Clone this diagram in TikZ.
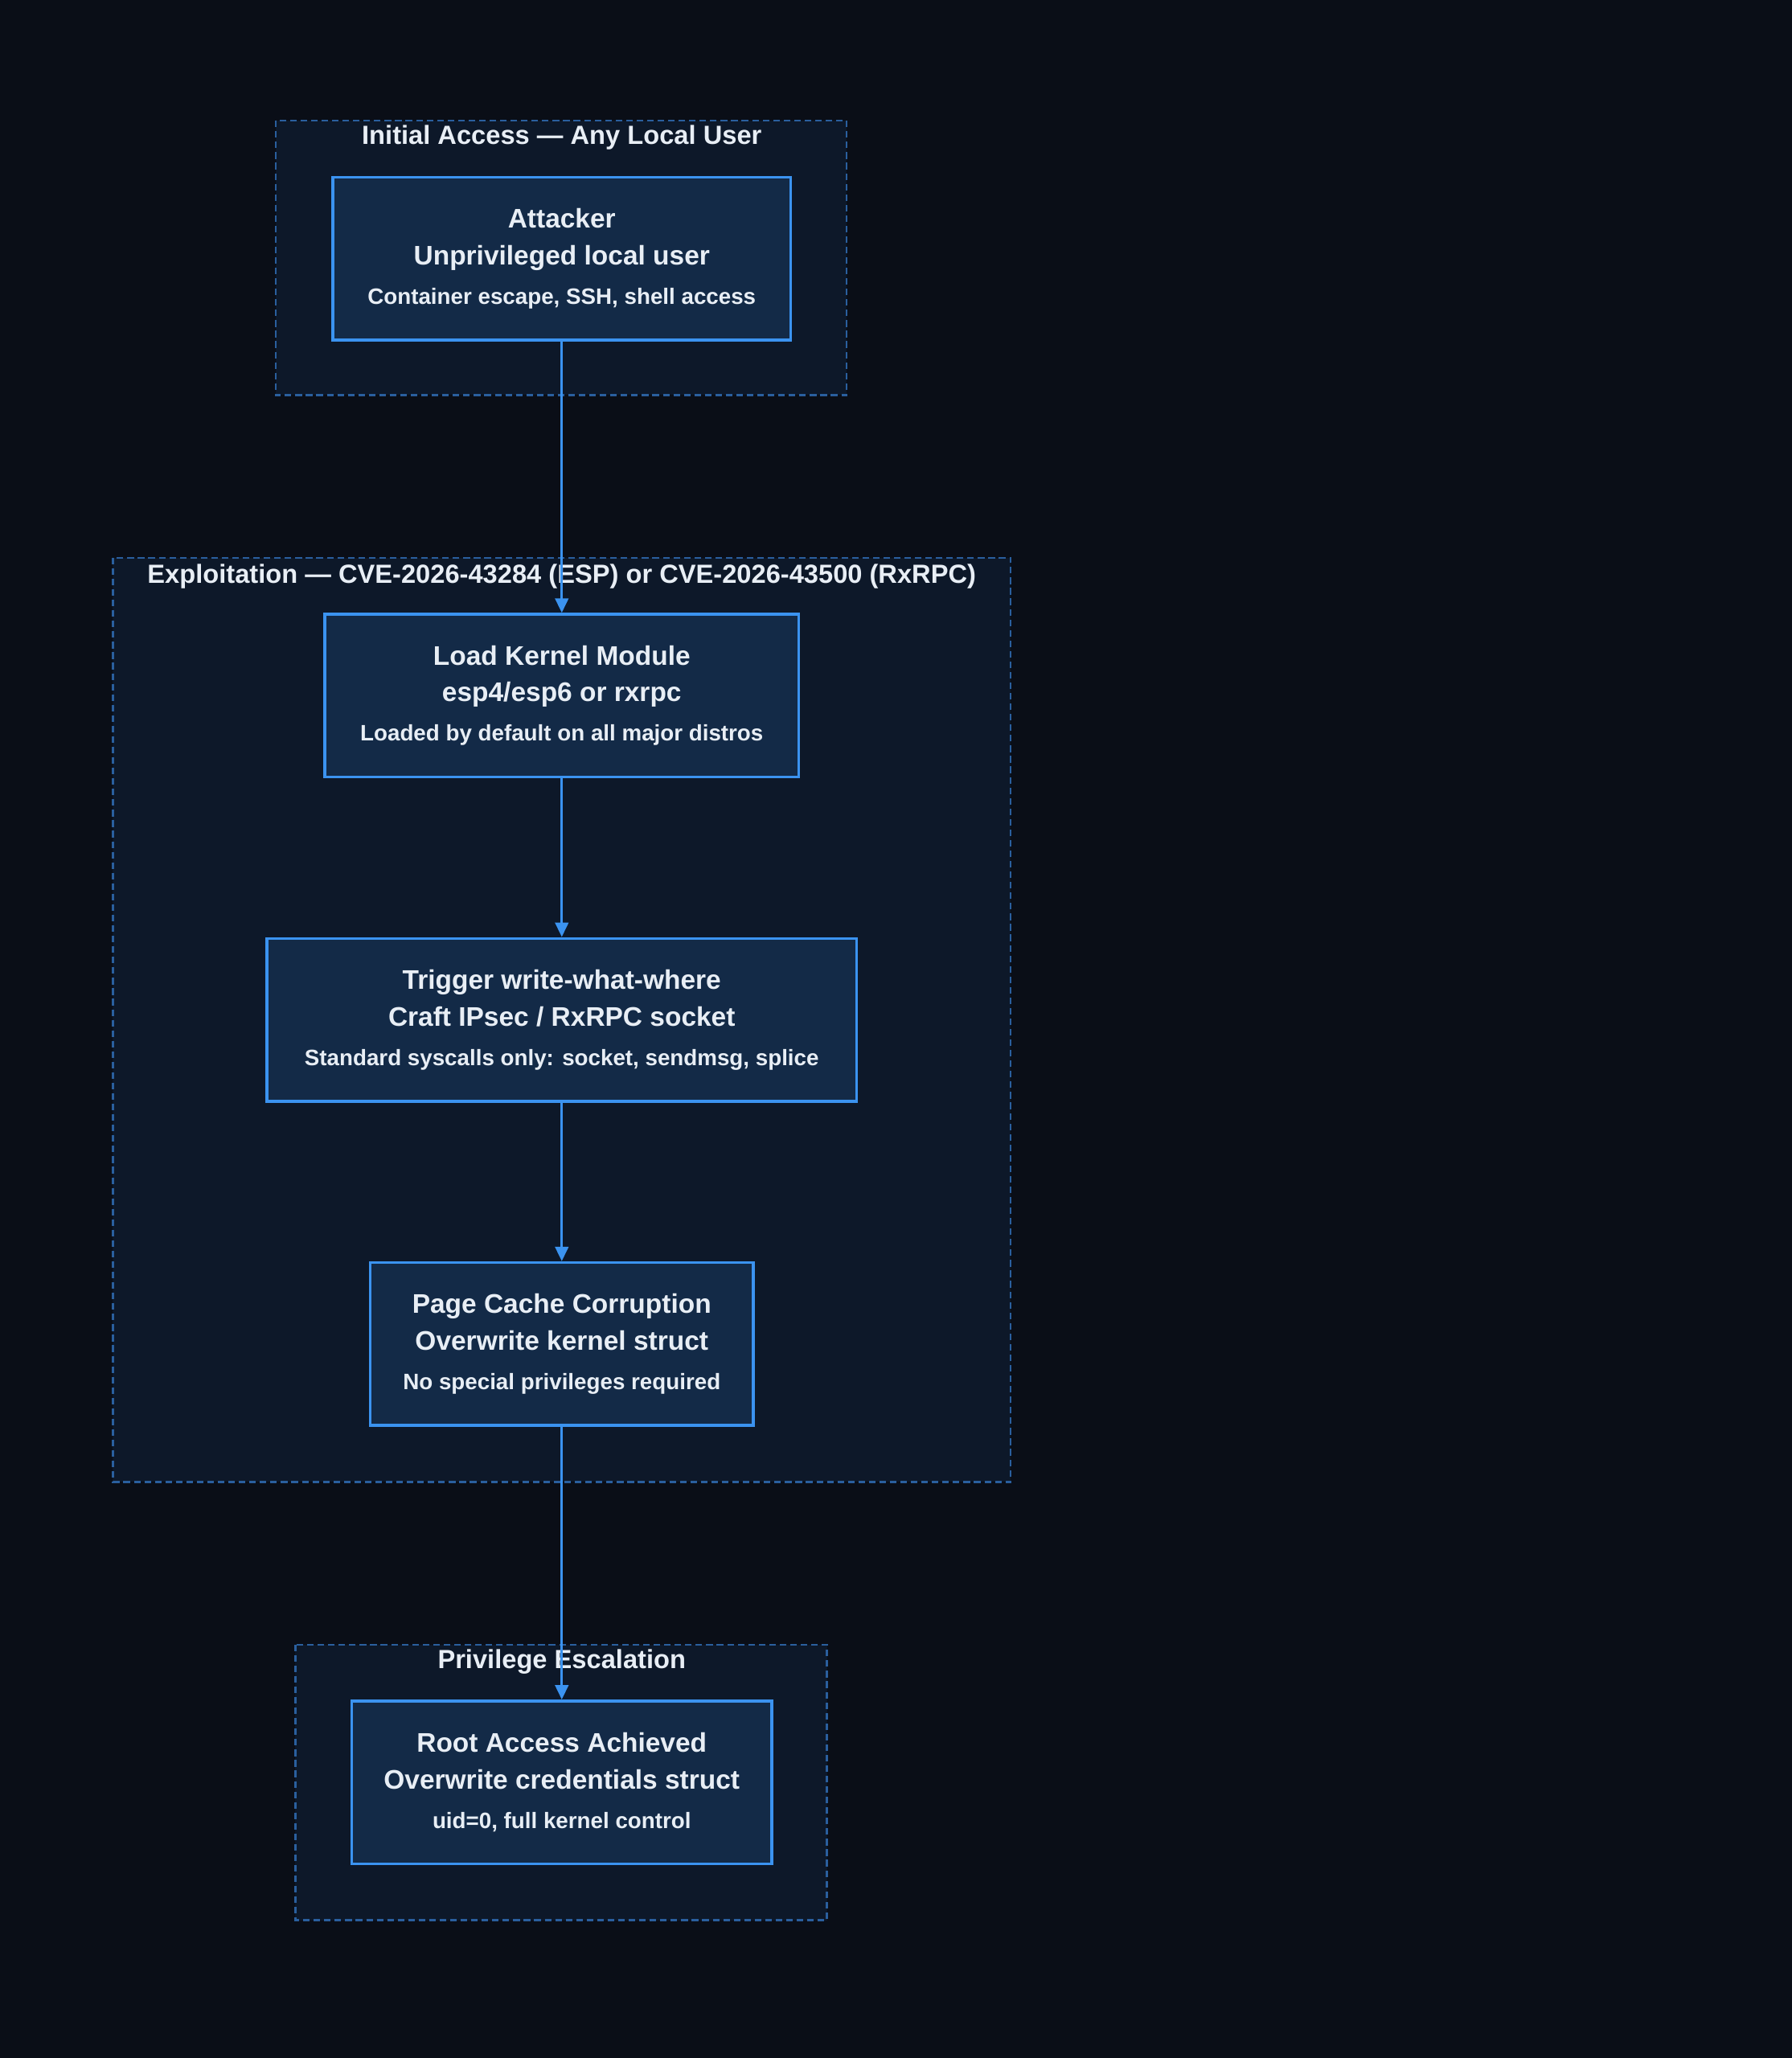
\documentclass[tikz,border=0pt]{standalone}
\usepackage{fontspec}
\setmainfont{Liberation Sans}
\usetikzlibrary{arrows.meta}
\definecolor{bg}{HTML}{0A0E17}
\definecolor{clfill}{HTML}{0D1829}
\definecolor{clline}{HTML}{2A5F9E}
\definecolor{bxfill}{HTML}{132A47}
\definecolor{bxline}{HTML}{3B93F0}
\definecolor{txt}{HTML}{E8EEF5}
\begin{document}
\begin{tikzpicture}[x=1pt,y=-1pt,
  cluster/.style={draw=clline,fill=clfill,dashed,dash pattern=on 5pt off 3pt,line width=1.5pt},
  ctitle/.style={text=txt,font=\bfseries\fontsize{20}{24}\selectfont,anchor=center,inner sep=0},
  box/.style={draw=bxline,fill=bxfill,line width=2.2pt,text=txt,align=center,inner sep=0,
    font=\bfseries\fontsize{20.5}{28}\selectfont},
  sm/.style={},
  arr/.style={draw=bxline,line width=2pt,-{Triangle[length=11pt,width=10pt]}}]
\fill[bg] (0,0) rectangle (1365,1568);
\useasboundingbox (0,0) rectangle (1365,1568);
\newcommand\smline[1]{{\fontsize{17}{24}\selectfont #1}}
% clusters
\draw[cluster] (210,92) rectangle (645,301);
\node[ctitle] (t1) at (428,105) {Initial Access — Any Local User};
\draw[cluster] (86,425) rectangle (770,1129);
\node[ctitle] (t2) at (428,439) {Exploitation — CVE-2026-43284 (ESP) or CVE-2026-43500 (RxRPC)};
\draw[cluster] (225,1253) rectangle (630,1463);
\node[ctitle] (t3) at (428,1266) {Privilege Escalation};
% boxes
\node[box,minimum width=349pt,minimum height=124pt] (b1) at (428,197) {Attacker\\Unprivileged local user\\[2pt]\smline{Container escape, SSH, shell access}};
\node[box,minimum width=361pt,minimum height=124pt] (b2) at (428,530) {Load Kernel Module\\esp4/esp6 or rxrpc\\[2pt]\smline{Loaded by default on all major distros}};
\node[box,minimum width=449pt,minimum height=124pt] (b3) at (428,777) {Trigger write-what-where\\Craft IPsec / RxRPC socket\\[2pt]\smline{Standard syscalls only: socket, sendmsg, splice}};
\node[box,minimum width=292pt,minimum height=124pt] (b4) at (428,1024) {Page Cache Corruption\\Overwrite kernel struct\\[2pt]\smline{No special privileges required}};
\node[box,minimum width=320pt,minimum height=124pt] (b5) at (428,1358) {Root Access Achieved\\Overwrite credentials struct\\[2pt]\smline{uid=0, full kernel control}};
% arrows
\draw[arr] (b1.south) -- (b2.north);
\draw[arr] (b2.south) -- (b3.north);
\draw[arr] (b3.south) -- (b4.north);
\draw[arr] (b4.south) -- (b5.north);
\end{tikzpicture}
\end{document}
